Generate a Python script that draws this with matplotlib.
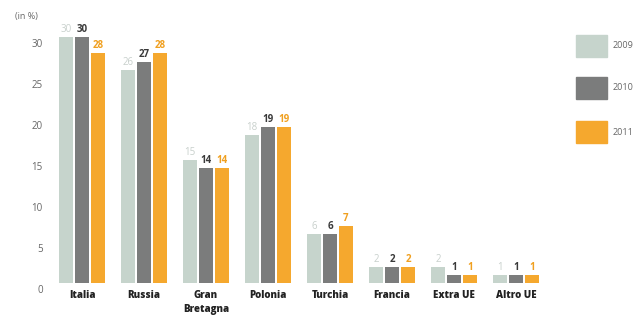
import numpy as np
import matplotlib.pyplot as plt
from matplotlib.transforms import ScaledTranslation

countries = ["Italia", "Russia", "Gran\nBretagna", "Polonia",
             "Turchia", "Francia", "Extra UE", "Altro UE"]
years = ["2009", "2010", "2011"]
v2009 = [30, 26, 15, 18, 6, 2, 2, 1]
v2010 = [30, 27, 14, 19, 6, 2, 1, 1]
v2011 = [28, 28, 14, 19, 7, 2, 1, 1]

bar_colors = ["#c6d4cc", "#7b7c7c", "#f5a82e"]
label_colors = ["#c8d0cc", "#3a3a3a", "#f0a020"]
label_weights = ["normal", "bold", "bold"]

plt.rcParams["font.family"] = ["Open Sans", "DejaVu Sans"]

fig = plt.figure(figsize=(6.38, 3.21), dpi=100)
ax = fig.add_axes([51 / 638, 0.1184, 496 / 638, 0.8174])

x = np.arange(len(countries))
width = 0.226
offset = 0.258

for i, (vals, yr) in enumerate(zip([v2009, v2010, v2011], years)):
    xs = x + (i - 1) * offset
    ax.bar(xs, vals, width, color=bar_colors[i], label=yr)
    for xi, v in zip(xs, vals):
        ax.text(xi, v + 0.25, str(v), ha="center", va="bottom",
                fontsize=7, color=label_colors[i],
                fontweight=label_weights[i])

ax.set_xlim(-0.5, len(countries) - 0.5)
ax.set_ylim(0, 32)
ax.set_yticks(range(0, 31, 5))
ax.tick_params(axis="y", length=0, pad=6, labelsize=7, labelcolor="#666666")
ax.tick_params(axis="x", length=0, pad=5)
ax.set_xticks(x)
ax.set_xticklabels(countries, fontsize=7, fontweight="heavy",
                   color="#222222", linespacing=1.4, va="top")

# value axis labels sit a little below their gridline positions
shift = ScaledTranslation(0, -0.06, fig.dpi_scale_trans)
for lab in ax.get_yticklabels():
    lab.set_transform(lab.get_transform() + shift)

for s in ax.spines.values():
    s.set_visible(False)

fig.text(15 / 638, 1 - 17 / 321, "(in %)", fontsize=6.5, color="#666666",
         va="center")

# legend drawn as squares with year text on the right
leg_y = [46, 88, 132]
for i, yr in enumerate(years):
    yc = 1 - leg_y[i] / 321
    fig.patches.append(plt.Rectangle((576 / 638, yc - 11 / 321), 31 / 638,
                                     22 / 321, transform=fig.transFigure,
                                     color=bar_colors[i]))
    fig.text(613 / 638, yc, yr, fontsize=6.5, color="#666666", va="center")

fig.savefig("out.png", dpi=100)
